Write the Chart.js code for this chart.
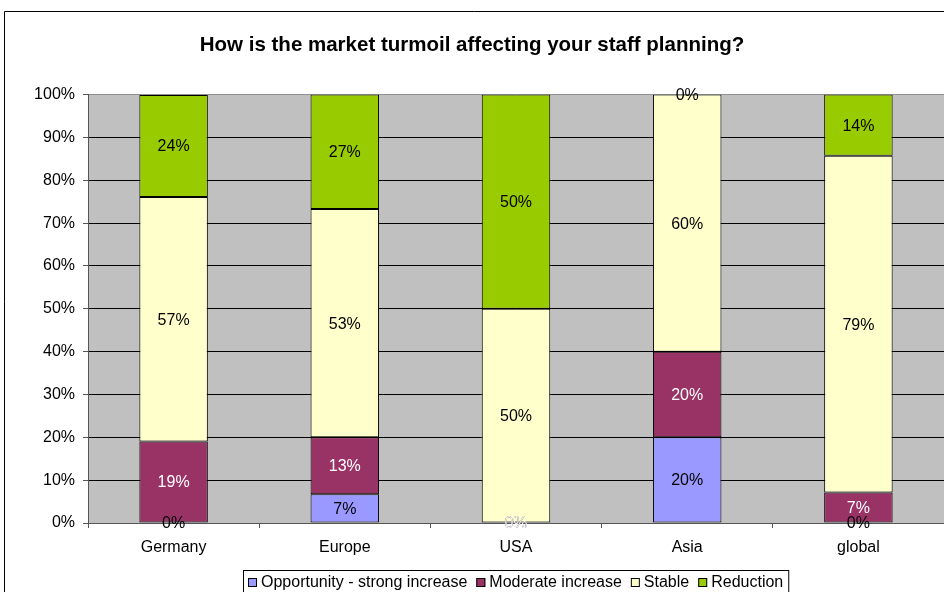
<!DOCTYPE html>
<html lang="en">
<head>
    <meta charset="utf-8">
    <script src="https://cdn.jsdelivr.net/npm/chart.js"></script>
    <title>Staff planning</title>
    <style>
        html, body {
            margin: 0;
            padding: 0;
            background: #fff;
            overflow: hidden;
        }
        .chart-container {
            position: relative;
            width: 944px;
            height: 592px;
        }
    </style>
</head>
<body>
    <div class="chart-container">
        <canvas id="staffChart"></canvas>
    </div>

    <script>
        // values (percent of respondents)
        const categories = ['Germany', 'Europe', 'USA', 'Asia', 'global'];
        const opportunity = [0, 6.7, 0, 20, 0];
        const moderate = [19.0, 13.3, 0, 20, 7.1];
        const stable = [57.1, 53.3, 50, 60, 78.6];
        const reduction = [23.8, 26.7, 50, 0, 14.3];
        const yTicks = [0, 10, 20, 30, 40, 50, 60, 70, 80, 90, 100];

        const FONT = 'Arial, "Liberation Sans", sans-serif';

        function makeSet(label, data, color, textColor) {
            return {
                label: label,
                data: data,
                backgroundColor: color,
                borderColor: '#000',
                borderWidth: 1,
                borderSkipped: false,
                barPercentage: 0.4,
                categoryPercentage: 1,
                labelColor: textColor
            };
        }

        // grey plot area + outer frame
        const backdrop = {
            id: 'backdrop',
            beforeDraw(chart) {
                const ctx = chart.ctx;
                const a = chart.chartArea;
                ctx.save();
                ctx.fillStyle = '#C0C0C0';
                ctx.fillRect(a.left, a.top, a.right - a.left, a.bottom - a.top);
                ctx.strokeStyle = '#000';
                ctx.lineWidth = 1;
                ctx.beginPath();
                ctx.moveTo(4.5, chart.height);
                ctx.lineTo(4.5, 11.5);
                ctx.lineTo(chart.width, 11.5);
                ctx.stroke();
                ctx.restore();
            }
        };

        // value labels in the middle of every segment
        const valueLabels = {
            id: 'valueLabels',
            afterDatasetsDraw(chart) {
                const ctx = chart.ctx;
                ctx.save();
                ctx.font = '16px ' + FONT;
                ctx.textAlign = 'center';
                ctx.textBaseline = 'middle';
                chart.data.datasets.forEach((ds, i) => {
                    const meta = chart.getDatasetMeta(i);
                    meta.data.forEach((bar, j) => {
                        const p = bar.getProps(['x', 'y', 'base'], true);
                        ctx.fillStyle = ds.labelColor;
                        ctx.fillText(Math.round(ds.data[j]) + '%', p.x, (p.y + p.base) / 2 + 1);
                    });
                });
                ctx.restore();
            }
        };

        // boxed legend under the axis, centred on the plot
        const boxLegend = {
            id: 'boxLegend',
            afterDraw(chart) {
                const ctx = chart.ctx;
                const a = chart.chartArea;
                const sets = chart.data.datasets;
                ctx.save();
                ctx.font = '16px ' + FONT;
                const mark = 9, gap = 4, between = 9, pad = 5;
                let total = pad * 2 - between;
                const widths = sets.map(ds => ctx.measureText(ds.label).width);
                widths.forEach(w => { total += mark + gap + w + between; });
                const left = Math.round((a.left + a.right) / 2 - total / 2);
                const top = 570;
                const midY = 582;
                ctx.strokeStyle = '#000';
                ctx.lineWidth = 1;
                ctx.strokeRect(left + 0.5, top + 0.5, total, 40);
                let x = left + pad;
                ctx.textBaseline = 'middle';
                ctx.textAlign = 'left';
                sets.forEach((ds, i) => {
                    ctx.fillStyle = ds.backgroundColor;
                    ctx.fillRect(x, midY - 4, mark, mark);
                    ctx.strokeStyle = '#000';
                    ctx.strokeRect(x + 0.5, midY - 4 + 0.5, mark - 1, mark - 1);
                    ctx.fillStyle = '#000';
                    ctx.fillText(ds.label, x + mark + gap, midY + 1);
                    x += mark + gap + widths[i] + between;
                });
                ctx.restore();
            }
        };

        const ctx = document.getElementById('staffChart').getContext('2d');
        const staffChart = new Chart(ctx, {
            type: 'bar',
            data: {
                labels: categories,
                datasets: [
                    makeSet('Opportunity - strong increase', opportunity, '#9999FF', '#000'),
                    makeSet('Moderate increase', moderate, '#993366', '#fff'),
                    makeSet('Stable', stable, '#FFFFCC', '#000'),
                    makeSet('Reduction', reduction, '#99CC00', '#000')
                ]
            },
            options: {
                responsive: true,
                maintainAspectRatio: false,
                animation: false,
                layout: {
                    padding: { left: 0, right: 0, top: 0, bottom: 37 }
                },
                plugins: {
                    legend: { display: false },
                    tooltip: { enabled: false },
                    title: {
                        display: true,
                        text: 'How is the market turmoil affecting your staff planning?',
                        color: '#000',
                        font: { family: FONT, size: 20.5, weight: 'bold' },
                        padding: { top: 33, bottom: 37 }
                    }
                },
                scales: {
                    x: {
                        stacked: true,
                        afterFit(scale) { scale.height = 32; },
                        grid: {
                            drawOnChartArea: false,
                            drawTicks: true,
                            tickLength: 5,
                            tickColor: '#555',
                            offset: true
                        },
                        border: { color: '#555', width: 1 },
                        ticks: {
                            color: '#000',
                            padding: 10,
                            font: { family: FONT, size: 16 }
                        }
                    },
                    y: {
                        stacked: true,
                        min: 0,
                        max: 100,
                        afterFit(scale) { scale.width = 88; },
                        afterBuildTicks(scale) {
                            scale.ticks = yTicks.map(v => ({ value: v }));
                        },
                        grid: {
                            color: c => (c.tick && c.tick.value === 100) ? '#909090' : '#000',
                            tickColor: '#555',
                            tickLength: 5,
                            lineWidth: 1
                        },
                        border: { color: '#555', width: 1 },
                        ticks: {
                            color: '#000',
                            padding: 8,
                            font: { family: FONT, size: 16 },
                            callback: v => v + '%'
                        }
                    }
                }
            },
            plugins: [backdrop, valueLabels, boxLegend]
        });
    </script>
</body>
</html>
